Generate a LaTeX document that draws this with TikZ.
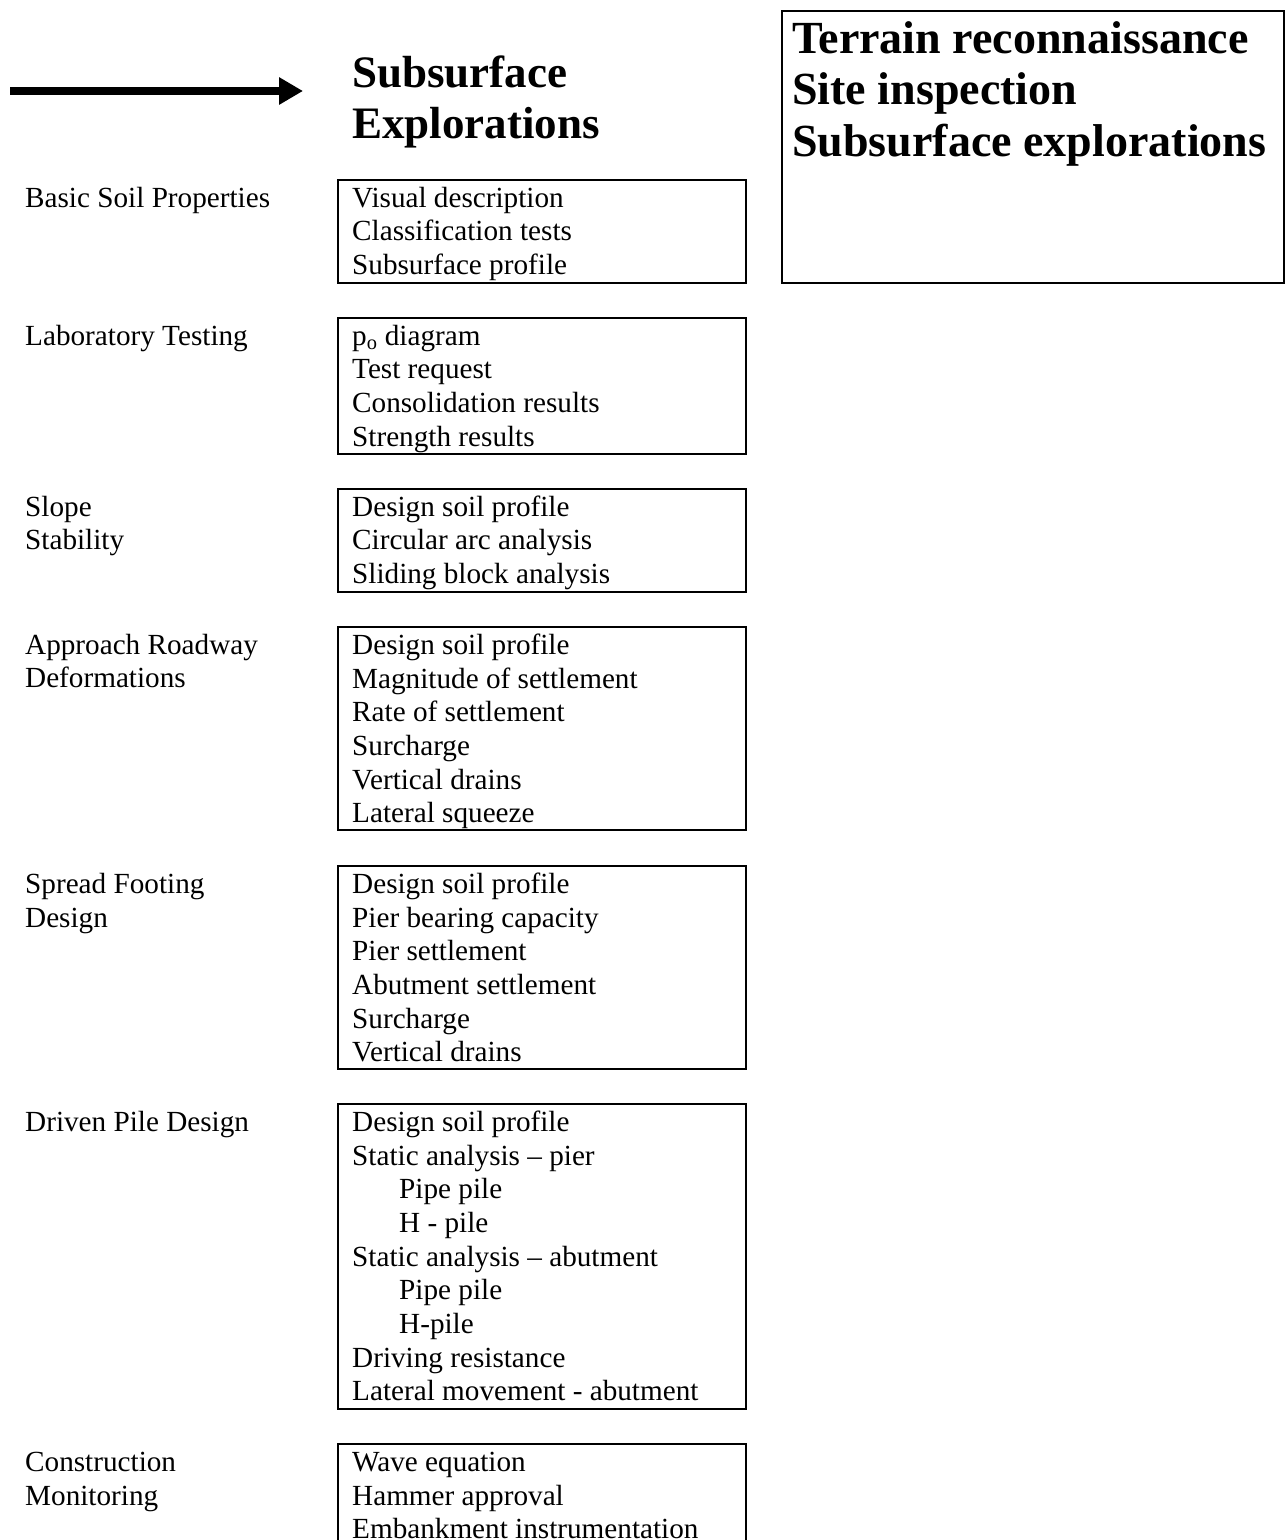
\documentclass[tikz,border=0pt]{standalone}
\usepackage{fontspec}
\setmainfont{Liberation Serif}
\usetikzlibrary{arrows.meta}
\tikzset{
  bx/.style={draw=black, line width=2pt, minimum width=408pt, anchor=north west, inner sep=0pt},
  txt/.style={anchor=north west, inner sep=0pt, align=left, font=\fontsize{29.2}{33.7}\selectfont},
  hd/.style={anchor=north west, inner sep=0pt, align=left, font=\fontsize{45}{51.5}\selectfont\bfseries},
  hdt/.style={hd, font=\fontsize{46}{51.5}\selectfont\bfseries},
}
\newcommand{\ind}{\hspace*{47pt}}
\begin{document}
\begin{tikzpicture}[x=1pt,y=-1pt]
\clip (0,0) rectangle (1287,1540);
\fill[white] (0,0) rectangle (1287,1540);

% arrow
\coordinate (a0) at (10,91);
\coordinate (a1) at (303,91);
\draw[line width=8pt, -{Triangle[length=24pt, width=26pt]}] (a0) -- (a1);

% header
\node[hd] (head) at (352,51) {\strut Subsurface\\Explorations};

% terrain box
\node[bx, minimum width=502pt, minimum height=272pt] (tb) at (781,10) {};
\node[hdt] (tt) at (792,17) {\strut Terrain reconnaissance\\Site inspection\\Subsurface explorations};

% boxes
\node[bx, minimum height=103pt] (b1) at (337,179) {};
\node[bx, minimum height=136pt] (b2) at (337,317) {};
\node[bx, minimum height=103pt] (b3) at (337,488) {};
\node[bx, minimum height=203pt] (b4) at (337,626) {};
\node[bx, minimum height=203pt] (b5) at (337,865) {};
\node[bx, minimum height=305pt] (b6) at (337,1103) {};
\node[bx, minimum height=103pt] (b7) at (337,1443) {};

\node[txt] (t1) at ([xshift=15pt,yshift=-4.5pt]b1.north west) {\strut Visual description\\Classification tests\\Subsurface profile};
\node[txt] (t2) at ([xshift=15pt,yshift=-4.5pt]b2.north west) {\strut p\textsubscript{o} diagram\\Test request\\Consolidation results\\Strength results};
\node[txt] (t3) at ([xshift=15pt,yshift=-4.5pt]b3.north west) {\strut Design soil profile\\Circular arc analysis\\Sliding block analysis};
\node[txt] (t4) at ([xshift=15pt,yshift=-4.5pt]b4.north west) {\strut Design soil profile\\Magnitude of settlement\\Rate of settlement\\Surcharge\\Vertical drains\\Lateral squeeze};
\node[txt] (t5) at ([xshift=15pt,yshift=-4.5pt]b5.north west) {\strut Design soil profile\\Pier bearing capacity\\Pier settlement\\Abutment settlement\\Surcharge\\Vertical drains};
\node[txt] (t6) at ([xshift=15pt,yshift=-4.5pt]b6.north west) {\strut Design soil profile\\Static analysis -- pier\\\ind Pipe pile\\\ind H - pile\\Static analysis -- abutment\\\ind Pipe pile\\\ind H-pile\\Driving resistance\\Lateral movement - abutment};
\node[txt] (t7) at ([xshift=15pt,yshift=-4.5pt]b7.north west) {\strut Wave equation\\Hammer approval\\Embankment instrumentation};

% left labels
\node[txt] (l1) at ([xshift=-312pt,yshift=-4.5pt]b1.north west) {\strut Basic Soil Properties};
\node[txt] (l2) at ([xshift=-312pt,yshift=-4.5pt]b2.north west) {\strut Laboratory Testing};
\node[txt] (l3) at ([xshift=-312pt,yshift=-4.5pt]b3.north west) {\strut Slope\\Stability};
\node[txt] (l4) at ([xshift=-312pt,yshift=-4.5pt]b4.north west) {\strut Approach Roadway\\Deformations};
\node[txt] (l5) at ([xshift=-312pt,yshift=-4.5pt]b5.north west) {\strut Spread Footing\\Design};
\node[txt] (l6) at ([xshift=-312pt,yshift=-4.5pt]b6.north west) {\strut Driven Pile Design};
\node[txt] (l7) at ([xshift=-312pt,yshift=-4.5pt]b7.north west) {\strut Construction\\Monitoring};
\end{tikzpicture}
\end{document}
